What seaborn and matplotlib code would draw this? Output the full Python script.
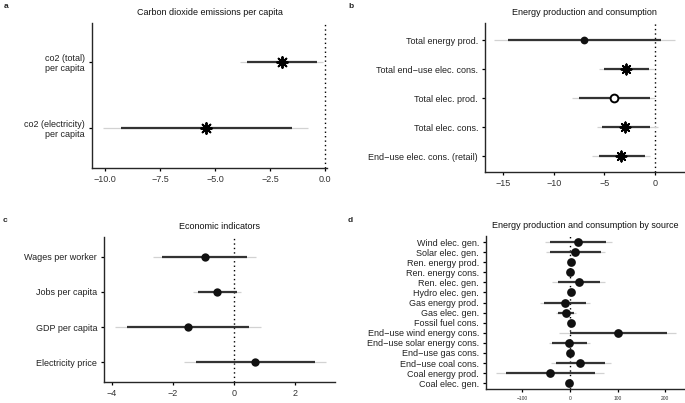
import numpy as np
import pandas as pd
import matplotlib
matplotlib.use("Agg")
import matplotlib.pyplot as plt
import seaborn as sns

# panel a: co2
co2_labels = ["co2 (total)\nper capita", "co2 (electricity)\nper capita"]
co2_est = [-1.95, -5.4]
co2_lo_in = [-3.55, -9.3]
co2_hi_in = [-0.36, -1.5]
co2_lo_out = [-3.86, -10.1]
co2_hi_out = [-0.09, -0.77]

# panel b: energy production / consumption
energy_labels = ["Total energy prod.", "Total end\u2212use elec. cons.",
                 "Total elec. prod.", "Total elec. cons.",
                 "End\u2212use elec. cons. (retail)"]
energy_est = [-7.0, -2.8, -4.0, -2.9, -3.3]
energy_lo_in = [-14.5, -5.0, -7.5, -5.2, -5.5]
energy_hi_in = [0.6, -0.6, -0.5, -0.5, -1.0]
energy_lo_out = [-15.9, -5.5, -8.2, -5.7, -6.2]
energy_hi_out = [2.0, -0.1, 0.0, 0.3, -0.5]
energy_marker = ["dot", "star", "open", "star", "star"]

# panel c: economic indicators
econ_labels = ["Wages per worker", "Jobs per capita", "GDP per capita",
               "Electricity price"]
econ_est = [-0.95, -0.56, -1.52, 0.68]
econ_lo_in = [-2.36, -1.18, -3.52, -1.25]
econ_hi_in = [0.43, 0.09, 0.47, 2.63]
econ_lo_out = [-2.65, -1.34, -3.9, -1.64]
econ_hi_out = [0.72, 0.22, 0.87, 3.02]

# panel d: by source
src_labels = ["Wind elec. gen.", "Solar elec. gen.", "Ren. energy prod.",
              "Ren. energy cons.", "Ren. elec. gen.", "Hydro elec. gen.",
              "Gas energy prod.", "Gas elec. gen.", "Fossil fuel cons.",
              "End\u2212use wind energy cons.", "End\u2212use solar energy cons.",
              "End\u2212use gas cons.", "End\u2212use coal cons.",
              "Coal energy prod.", "Coal elec. gen."]
src_est = [17, 11, 2, 0, 18, 3, -10, -8, 2, 100, -2, 0, 22, -42, -1]
src_lo_in = [-42, -42, -3, -3, -26, -2, -54, -26, -2, 0, -37, -3, -30, -135, -4]
src_hi_in = [76, 64, 6, 3, 62, 7, 33, 8, 5, 203, 35, 3, 74, 52, 3]
src_lo_out = [-53, -51, -5, -5, -37, -4, -62, -30, -4, -22, -45, -5, -40, -155, -6]
src_hi_out = [88, 74, 8, 5, 73, 9, 42, 12, 7, 222, 42, 5, 85, 71, 5]

sns.set_theme(style="ticks")
plt.rcParams['font.family'] = ['Liberation Sans', 'DejaVu Sans']
plt.rcParams['font.size'] = 6.5
plt.rcParams['axes.linewidth'] = 1.0
plt.rcParams['xtick.major.size'] = 2.5
plt.rcParams['ytick.major.size'] = 2.5
plt.rcParams['xtick.major.width'] = 0.9
plt.rcParams['ytick.major.width'] = 0.9
plt.rcParams['xtick.major.pad'] = 2.5
plt.rcParams['ytick.major.pad'] = 2.5

W, H = 685, 403
fig = plt.figure(figsize=(W / 100, H / 100), dpi=100)


def px_axes(left, top, right, bottom):
    return fig.add_axes([left / W, 1 - bottom / H, (right - left) / W,
                         (bottom - top) / H])


def forest(ax, labels, est, lo_in, hi_in, lo_out, hi_out, markers, size,
           title, xlim, ylim, xticks, fmt=None, xtick_size=6.5):
    df = pd.DataFrame({"label": labels, "est": est, "marker": markers})
    pos = np.arange(len(labels))
    ax.axvline(0, color="black", ls=(0, (1, 2.2)), lw=1.0, zorder=1)
    ax.hlines(pos, lo_out, hi_out, color="#d2d2d2", lw=0.9, zorder=2)
    ax.hlines(pos, lo_in, hi_in, color="#333333", lw=1.6, zorder=2.5)
    for kind in df["marker"].unique():
        sub = df[df["marker"] == kind]
        if kind == "star":
            sns.stripplot(data=sub, x="est", y="label", order=labels,
                          orient="h", jitter=False, ax=ax, color="black",
                          marker=(8, 2, 0), size=size * 1.3,
                          edgecolor="black", linewidth=1.4, zorder=3)
        elif kind == "open":
            sns.stripplot(data=sub, x="est", y="label", order=labels,
                          orient="h", jitter=False, ax=ax, color="white",
                          marker="o", size=size, edgecolor="black",
                          linewidth=1.4, zorder=3)
        else:
            sns.stripplot(data=sub, x="est", y="label", order=labels,
                          orient="h", jitter=False, ax=ax, color="#111111",
                          marker="o", size=size, edgecolor="#111111",
                          linewidth=0, zorder=3)
    ax.set_xlim(*xlim)
    ax.set_ylim(*ylim)
    ax.set_xticks(xticks)
    if fmt is not None:
        ax.set_xticklabels([fmt.format(t).replace("-", "\u2212") for t in xticks])
    ax.tick_params(axis="x", labelsize=xtick_size, colors="black",
                   labelcolor="#333333")
    ax.tick_params(axis="y", labelsize=6.5, colors="black",
                   labelcolor="#222222")
    ax.set_xlabel("")
    ax.set_ylabel("")
    ax.set_title(title, fontsize=6.5, pad=6, color="#111111")
    sns.despine(ax=ax)


ax_a = px_axes(92, 23, 327, 168)
forest(ax_a, co2_labels, co2_est, co2_lo_in, co2_hi_in, co2_lo_out,
       co2_hi_out, ["star"] * 2, 6, "Carbon dioxide emissions per capita",
       (-10.6, 0.1), (1.61, -0.59), [-10, -7.5, -5, -2.5, 0], fmt="{:.1f}")

ax_b = px_axes(485, 23, 684, 172)
forest(ax_b, energy_labels, energy_est, energy_lo_in, energy_hi_in,
       energy_lo_out, energy_hi_out, energy_marker, 5.6,
       "Energy production and consumption", (-16.8, 2.9), (4.55, -0.59),
       [-15, -10, -5, 0])

ax_c = px_axes(104, 237, 335, 382)
forest(ax_c, econ_labels, econ_est, econ_lo_in, econ_hi_in, econ_lo_out,
       econ_hi_out, ["dot"] * 4, 6, "Economic indicators", (-4.26, 3.3),
       (3.57, -0.57), [-4, -2, 0, 2])

ax_d = px_axes(486, 236, 684, 389)
forest(ax_d, src_labels, src_est, src_lo_in, src_hi_in, src_lo_out,
       src_hi_out, ["dot"] * 15, 6.3, "Energy production and consumption by source",
       (-176, 239), (14.57, -0.6), [-100, 0, 100, 200], xtick_size=3.5)

for lab, x, y in [("a", 4, 7), ("b", 348, 7), ("c", 3, 220), ("d", 348, 220)]:
    fig.text(x / W, 1 - y / H, lab, fontsize=6, fontweight="bold",
             va="center", ha="left")

fig.savefig("out.png", dpi=100)
